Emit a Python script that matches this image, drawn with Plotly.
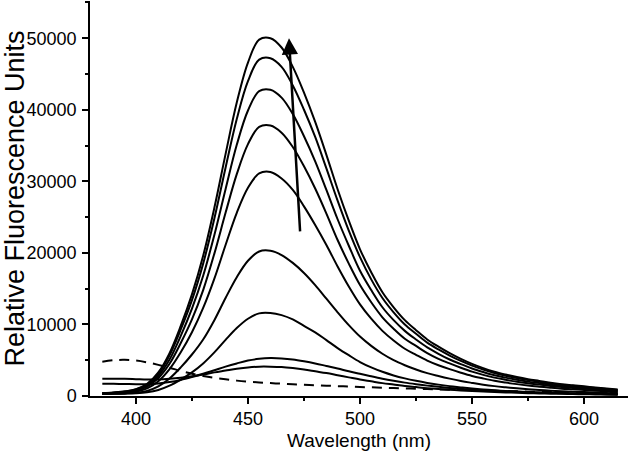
import plotly.graph_objects as go

wavelength = list(range(385, 616, 5))

curve_a = [400, 500, 650, 950, 1700, 3300, 6000, 9800, 14200, 19600, 26300, 33800, 41000, 46600, 49800, 50000,
           48700, 46000, 42400, 38300, 33700, 28900, 24500, 20500, 17300, 14500, 12400, 10600, 9200, 7900, 6900,
           6000, 5200, 4500, 3900, 3400, 3000, 2650, 2350, 2100, 1850, 1650, 1500, 1350, 1200, 1050, 900]
curve_b = [380, 470, 610, 900, 1600, 3100, 5700, 9300, 13400, 18500, 24800, 31900, 38700, 44000, 47000, 47200,
           46000, 43400, 40000, 36200, 31800, 27300, 23100, 19400, 16300, 13700, 11700, 10000, 8700, 7450, 6500,
           5650, 4900, 4250, 3700, 3200, 2830, 2500, 2220, 1980, 1750, 1560, 1420, 1270, 1130, 990, 850]
curve_c = [370, 440, 560, 810, 1450, 2800, 5100, 8400, 12200, 16800, 22500, 28900, 35100, 39900, 42600, 42800,
           41700, 39400, 36300, 32800, 28800, 24700, 21000, 17500, 14800, 12400, 10600, 9100, 7900, 6800, 5900,
           5100, 4450, 3850, 3350, 2900, 2570, 2270, 2010, 1800, 1580, 1410, 1280, 1160, 1030, 900, 770]
curve_d = [350, 400, 500, 720, 1300, 2500, 4500, 7400, 10700, 14800, 19900, 25600, 31000, 35200, 37600, 37800,
           36800, 34800, 32100, 29000, 25500, 21800, 18500, 15500, 13100, 11000, 9400, 8000, 7000, 6000, 5200,
           4550, 3950, 3400, 2950, 2570, 2270, 2000, 1780, 1590, 1400, 1250, 1130, 1020, 910, 790, 680]
curve_e = [330, 370, 440, 600, 1060, 2060, 3750, 6100, 8900, 12300, 16400, 21100, 25600, 29100, 31100, 31300,
           30400, 28800, 26500, 23900, 21100, 18100, 15300, 12800, 10800, 9100, 7750, 6600, 5750, 4950, 4300,
           3750, 3250, 2800, 2450, 2130, 1880, 1660, 1470, 1310, 1160, 1030, 940, 850, 750, 660, 560]
curve_f = [300, 320, 360, 450, 720, 1350, 2450, 4000, 5800, 7900, 10600, 13700, 16600, 18900, 20200, 20300,
           19700, 18600, 17200, 15500, 13600, 11700, 9900, 8300, 7000, 5900, 5000, 4300, 3700, 3200, 2800,
           2430, 2100, 1830, 1580, 1380, 1220, 1080, 950, 850, 750, 670, 610, 550, 490, 430, 360]
curve_g = [280, 300, 330, 380, 520, 850, 1450, 2300, 3300, 4550, 6100, 7850, 9500, 10800, 11550, 11600,
           11300, 10700, 9800, 8900, 7800, 6700, 5700, 4750, 4000, 3380, 2870, 2460, 2120, 1830, 1590,
           1380, 1200, 1040, 900, 790, 700, 620, 550, 490, 430, 390, 350, 320, 280, 250, 210]
curve_h = [1700, 1700, 1680, 1650, 1650, 1750, 1950, 2250, 2650, 3100, 3600, 4100, 4550, 4950, 5200, 5300,
           5250, 5100, 4850, 4550, 4200, 3850, 3450, 3100, 2750, 2420, 2130, 1870, 1650, 1450, 1280,
           1130, 1000, 890, 800, 720, 650, 590, 530, 480, 430, 390, 350, 320, 290, 260, 230]
curve_i = [2400, 2420, 2400, 2350, 2300, 2300, 2400, 2550, 2750, 3000, 3300, 3550, 3800, 4000, 4100, 4100,
           4050, 3900, 3700, 3450, 3200, 2900, 2600, 2300, 2050, 1800, 1600, 1400, 1250, 1100, 980,
           870, 780, 700, 620, 560, 500, 450, 400, 360, 330, 300, 270, 250, 220, 200, 180]
curve_blank = [4800, 5000, 5050, 4950, 4700, 4350, 3950, 3500, 3100, 2800, 2550, 2350, 2150, 2000, 1900, 1800,
               1720, 1640, 1570, 1500, 1440, 1380, 1320, 1260, 1210, 1160, 1110, 1060, 1010, 970, 930,
               890, 850, 810, 770, 730, 690, 650, 610, 580, 550, 520, 490, 460, 430, 410, 390]

solid_curves = [curve_i, curve_h, curve_g, curve_f, curve_e, curve_d, curve_c, curve_b, curve_a]

x_ticks = [400, 450, 500, 550, 600]
y_ticks = [0, 10000, 20000, 30000, 40000, 50000]
y_tick_text = [str(v) for v in y_ticks]

arrow_tip = (468.3, 50000)
arrow_tail = (473.3, 22800)

FONT = "Liberation Sans, Arial, sans-serif"

fig = go.Figure()
fig.add_trace(go.Scatter(x=wavelength, y=curve_blank, mode="lines",
                         line=dict(color="black", width=2, dash="10px,7px", shape="spline"),
                         showlegend=False, hoverinfo="skip"))
for c in solid_curves:
    fig.add_trace(go.Scatter(x=wavelength, y=c, mode="lines",
                             line=dict(color="black", width=2, shape="spline"),
                             showlegend=False, hoverinfo="skip"))

fig.add_annotation(x=arrow_tip[0], y=arrow_tip[1], ax=arrow_tail[0], ay=arrow_tail[1],
                   xref="x", yref="y", axref="x", ayref="y", text="", showarrow=True,
                   arrowhead=2, arrowsize=1.3, arrowwidth=2.5, arrowcolor="black")

fig.update_layout(
    width=630, height=460,
    margin=dict(l=90, r=2, t=1, b=64),
    paper_bgcolor="white", plot_bgcolor="white",
    font=dict(family=FONT, size=18, color="black"),
    xaxis=dict(range=[379.5, 619.6], tickvals=x_ticks, ticks="outside", ticklen=6, tickwidth=1.5,
               tickcolor="black", showline=True, linecolor="black", linewidth=1.5, showgrid=False,
               zeroline=False, automargin=False, ticklabelstandoff=0,
               minor=dict(ticks="outside", ticklen=3, tickwidth=1.5, tickcolor="black",
                          dtick=25, tick0=375, showgrid=False),
               title=dict(text="Wavelength (nm)", font=dict(size=19), standoff=5),
               tickfont=dict(size=18)),
    yaxis=dict(range=[0, 55200], tickvals=y_ticks, ticktext=y_tick_text, ticks="outside", ticklen=6,
               tickwidth=1.5, tickcolor="black", showline=True, linecolor="black", linewidth=1.5,
               showgrid=False, zeroline=False, automargin=False, ticklabelstandoff=2,
               minor=dict(ticks="outside", ticklen=3, tickwidth=1.5, tickcolor="black",
                          dtick=5000, tick0=0, showgrid=False),
               title=dict(text="Relative Fluorescence Units", font=dict(size=27), standoff=10),
               tickfont=dict(size=18)),
)

fig.write_html("out.html", config={"displayModeBar": False},
               post_script="document.body.style.margin='0';")
